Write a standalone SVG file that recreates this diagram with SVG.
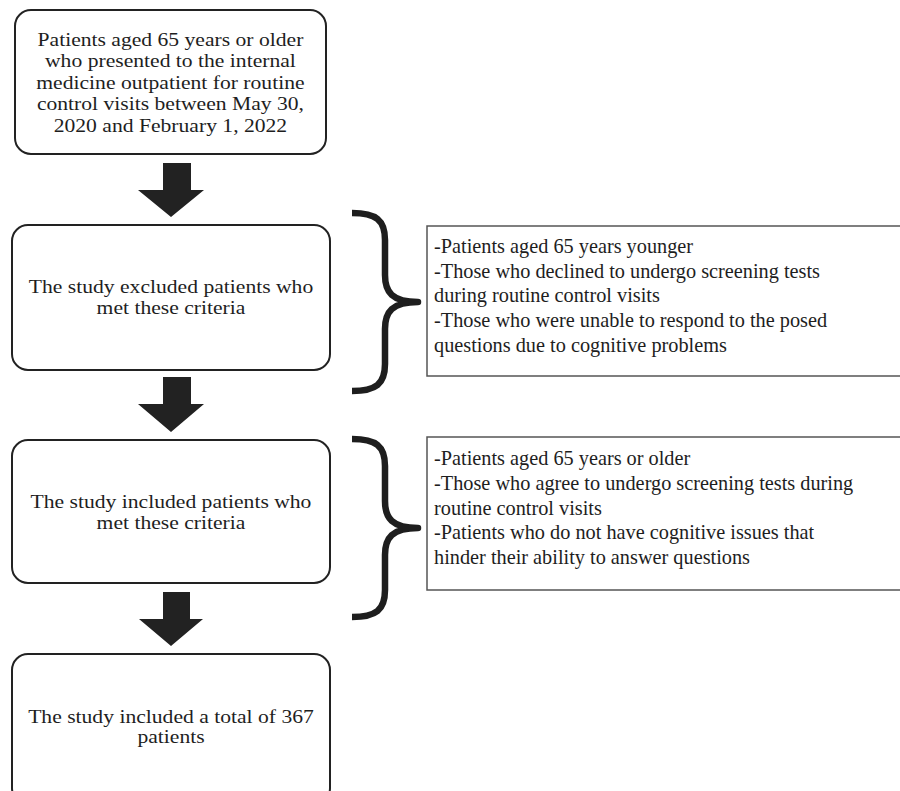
<svg xmlns="http://www.w3.org/2000/svg" width="900" height="791" viewBox="0 0 900 791">
<style>
.box{fill:#fff;stroke:#222;stroke-width:2}
.crit{fill:#fff;stroke:#555;stroke-width:1.5}
.lt{font-family:"Liberation Serif","Times New Roman",serif;font-size:19.3px;fill:#1e1e1e;text-anchor:middle}
.rt{font-family:"Liberation Serif","Times New Roman",serif;font-size:20.3px;fill:#1e1e1e}
.arrow{fill:#222}
.brace{fill:none;stroke:#1e1e1e;stroke-width:6.5;stroke-linecap:butt;stroke-linejoin:round}
</style>
<rect width="900" height="791" fill="#fff"/>
<g id="connectors">
<polygon class="arrow" points="163,163 191,163 191,190 204,190 171,217 138,190 163,190"/>
<polygon class="arrow" points="163,377 191,377 191,404 204,404 171,432 138,404 163,404"/>
<polygon class="arrow" points="163,592 190,592 190,619 203,619 171,646 139,619 163,619"/>
<path id="brace1" class="brace" d="M352,213 C376,213 385,220 385,240 L385,275 C385,292 392,302 418,302 C392,302 385,312 385,329 L385,364 C385,384 376,391 352,391"/>
<path id="brace2" class="brace" d="M352,439 C376,439 385,446 385,466 L385,501 C385,518 392,528 418,528 C392,528 385,538 385,555 L385,590 C385,610 376,617 352,617"/>
</g>
<g id="start">
<rect class="box" x="15" y="10" width="311" height="144" rx="16"/>
<g transform="matrix(1.12 0 0 1 -20.52 0)">
<text class="lt" x="170.5" y="46">Patients aged 65 years or older</text>
<text class="lt" x="170.5" y="67.4">who presented to the internal</text>
<text class="lt" x="170.5" y="88.8">medicine outpatient for routine</text>
<text class="lt" x="170.5" y="110.2">control visits between May 30,</text>
<text class="lt" x="170.5" y="131.6">2020 and February 1, 2022</text>
</g>
</g>
<g id="excluded">
<rect class="box" x="12" y="225" width="318" height="145" rx="16"/>
<g transform="matrix(1.12 0 0 1 -20.52 0)">
<text class="lt" x="171" y="292.7">The study excluded patients who</text>
<text class="lt" x="171" y="314">met these criteria</text>
</g>
</g>
<g id="exclusion-criteria">
<rect class="crit" x="427" y="226" width="480" height="150"/>
<text class="rt" x="434" y="252.7">-Patients aged 65 years younger</text>
<text class="rt" x="434" y="277.5">-Those who declined to undergo screening tests</text>
<text class="rt" x="434" y="302.2">during routine control visits</text>
<text class="rt" x="434" y="327">-Those who were unable to respond to the posed</text>
<text class="rt" x="434" y="351.7">questions due to cognitive problems</text>
</g>
<g id="included">
<rect class="box" x="12" y="440" width="318" height="143" rx="16"/>
<g transform="matrix(1.12 0 0 1 -20.52 0)">
<text class="lt" x="171" y="507.7">The study included patients who</text>
<text class="lt" x="171" y="529">met these criteria</text>
</g>
</g>
<g id="inclusion-criteria">
<rect class="crit" x="427" y="437" width="480" height="153"/>
<text class="rt" x="434" y="465">-Patients aged 65 years or older</text>
<text class="rt" x="434" y="489.8">-Those who agree to undergo screening tests during</text>
<text class="rt" x="434" y="514.5">routine control visits</text>
<text class="rt" x="434" y="539.3">-Patients who do not have cognitive issues that</text>
<text class="rt" x="434" y="564">hinder their ability to answer questions</text>
</g>
<g id="total">
<rect class="box" x="12" y="654" width="318" height="150" rx="16"/>
<g transform="matrix(1.12 0 0 1 -20.52 0)">
<text class="lt" x="171" y="722.7">The study included a total of 367</text>
<text class="lt" x="171" y="743">patients</text>
</g>
</g>
</svg>
